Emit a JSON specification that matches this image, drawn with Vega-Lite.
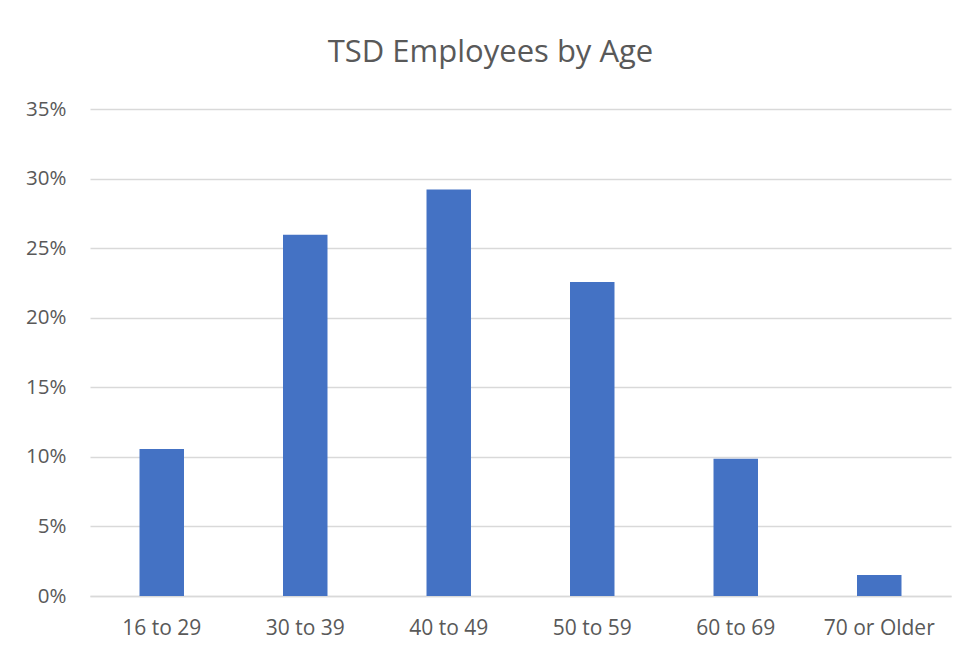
{
  "$schema": "https://vega.github.io/schema/vega-lite/v6.json",
  "width": 861,
  "height": 487,
  "autosize": "none",
  "padding": {"left": 90, "top": 109, "right": 16, "bottom": 56},
  "background": "white",
  "title": {
    "text": "TSD Employees by Age",
    "fontSize": 31,
    "font": "Open Sans",
    "fontWeight": "normal",
    "color": "#595959",
    "anchor": "middle",
    "baseline": "alphabetic",
    "dx": -30,
    "offset": 6
  },
  "data": {
    "values": [
      {"age": "16 to 29", "pct": 0.1057},
      {"age": "30 to 39", "pct": 0.2597},
      {"age": "40 to 49", "pct": 0.2921},
      {"age": "50 to 59", "pct": 0.2257},
      {"age": "60 to 69", "pct": 0.0987},
      {"age": "70 or Older", "pct": 0.0151}
    ]
  },
  "mark": {"type": "bar", "color": "#4472c4"},
  "encoding": {
    "x": {
      "field": "age",
      "type": "nominal",
      "sort": null,
      "scale": {"paddingInner": 0.69, "paddingOuter": 0.345},
      "axis": {
        "title": null,
        "labelAngle": 0,
        "labelFont": "Open Sans",
        "labelFontSize": 21,
        "labelColor": "#595959",
        "labelPadding": 21,
        "ticks": false,
        "domainColor": "#d9d9d9",
        "domainWidth": 1.5
      }
    },
    "y": {
      "field": "pct",
      "type": "quantitative",
      "scale": {"domain": [0, 0.35], "nice": false},
      "axis": {
        "title": null,
        "format": ".0%",
        "values": [0, 0.05, 0.1, 0.15, 0.2, 0.25, 0.3, 0.35],
        "labelFont": "Open Sans",
        "labelFontSize": 20.5,
        "labelColor": "#595959",
        "labelPadding": 24,
        "ticks": false,
        "domain": false,
        "gridColor": "#d9d9d9",
        "gridWidth": 1.3
      }
    }
  },
  "config": {"view": {"stroke": null}}
}
